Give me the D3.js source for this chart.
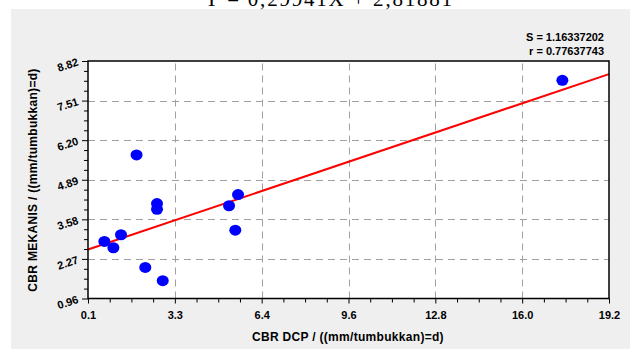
<!DOCTYPE html>
<html><head><meta charset="utf-8">
<script src="https://cdn.jsdelivr.net/npm/d3@7"></script>
<style>
html,body{margin:0;padding:0;background:#fff;}
svg{display:block;font-family:"Liberation Sans",Arial,sans-serif;}
</style></head>
<body>
<svg id="chart" width="630" height="349"></svg>
<script>
// Data
const cbrDCP     = [0.70, 1.03, 1.31, 1.88, 2.20, 2.63, 2.63, 2.84, 5.27, 5.60, 5.50, 17.49];
const cbrMekanis = [2.85, 2.64, 3.07, 5.71, 1.99, 4.10, 3.91, 1.55, 4.03, 4.40, 3.22, 8.18];
const xTickLabels = ["0.1", "3.3", "6.4", "9.6", "12.8", "16.0", "19.2"];
const yTickLabels = ["0.96", "2.27", "3.58", "4.89", "6.20", "7.51", "8.82"];
const fitIntercept = 2.55;
const fitSlope = 0.304;
const statLines = ["S = 1.16337202", "r = 0.77637743"];
const equationText = "Y = 0,29941X + 2,81881";

const svg = d3.select("#chart");
const W = 630, H = 349;
const m = {left: 88, right: 609, top: 61, bottom: 298.5};

// background panel
svg.append("rect").attr("x", 11).attr("y", 9).attr("width", W - 11).attr("height", H - 9).attr("fill", "#efefef");
// clipped equation at top
svg.append("text").attr("x", 204).attr("y", 6).attr("font-family", "'Liberation Serif','Times New Roman',serif")
  .attr("font-size", 21).attr("fill", "#000").attr("textLength", 248).text(equationText);

const xMin = +xTickLabels[0], xMax = +xTickLabels[xTickLabels.length - 1];
const yMin = +yTickLabels[0], yMax = +yTickLabels[yTickLabels.length - 1];
const x = d3.scaleLinear().domain([xMin, xMax]).range([m.left, m.right]);
const y = d3.scaleLinear().domain([yMin, yMax]).range([m.bottom, m.top]);

const nX = xTickLabels.length - 1, nY = yTickLabels.length - 1;
const xMajor = d3.range(nX + 1).map(i => xMin + i * (xMax - xMin) / nX);
const yMajor = d3.range(nY + 1).map(i => yMin + i * (yMax - yMin) / nY);
const xMinor = d3.range(nX * 4 + 1).map(i => xMin + i * (xMax - xMin) / (nX * 4)).filter((d, i) => i % 4 !== 0);
const yMinor = d3.range(nY * 4 + 1).map(i => yMin + i * (yMax - yMin) / (nY * 4)).filter((d, i) => i % 4 !== 0);

// plot area
svg.append("rect").attr("x", m.left).attr("y", m.top).attr("width", m.right - m.left).attr("height", m.bottom - m.top)
  .attr("fill", "#fff");

// grid
const grid = svg.append("g").attr("stroke", "#a0a0a0").attr("stroke-width", 1).attr("stroke-dasharray", "7,5");
grid.selectAll(".gx").data(xMajor.slice(1, -1)).join("line")
  .attr("x1", d => Math.round(x(d)) + 0.5).attr("x2", d => Math.round(x(d)) + 0.5)
  .attr("y1", m.bottom).attr("y2", m.top);
grid.selectAll(".gy").data(yMajor.slice(1, -1)).join("line")
  .attr("y1", d => Math.round(y(d)) + 0.5).attr("y2", d => Math.round(y(d)) + 0.5)
  .attr("x1", m.left).attr("x2", m.right);

// axes
const xAxis = d3.axisBottom(x).tickValues(xMajor).tickSize(5).tickFormat((d, i) => xTickLabels[i]);
const gx = svg.append("g").attr("transform", `translate(0,${m.bottom})`).call(xAxis);
gx.select(".domain").remove();
gx.selectAll("line").attr("stroke", "#000");
gx.selectAll("text").attr("font-size", 11).attr("font-weight", "bold").attr("fill", "#000")
  .attr("font-family", "'Liberation Sans',Arial,sans-serif").attr("dy", "1.15em");
const xAxisMinor = d3.axisBottom(x).tickValues(xMinor).tickSize(4).tickFormat("");
const gxm = svg.append("g").attr("transform", `translate(0,${m.bottom})`).call(xAxisMinor);
gxm.select(".domain").remove();
gxm.selectAll("line").attr("stroke", "#000");

const yAxis = d3.axisLeft(y).tickValues(yMajor).tickSize(6).tickFormat((d, i) => yTickLabels[i]);
const gy = svg.append("g").attr("transform", `translate(${m.left},0)`).call(yAxis);
gy.select(".domain").remove();
gy.selectAll("line").attr("stroke", "#000");
gy.selectAll("text").attr("font-size", 11).attr("font-weight", "bold").attr("fill", "#000")
  .attr("font-family", "'Liberation Sans',Arial,sans-serif")
  .attr("x", -10).attr("dy", "0.35em")
  .attr("transform", function() { return "rotate(-18," + (-10) + ",0)"; });
const yAxisMinor = d3.axisLeft(y).tickValues(yMinor).tickSize(4).tickFormat("");
const gym = svg.append("g").attr("transform", `translate(${m.left},0)`).call(yAxisMinor);
gym.select(".domain").remove();
gym.selectAll("line").attr("stroke", "#000");

// regression line
svg.append("line")
  .attr("x1", x(xMin)).attr("y1", y(fitIntercept + fitSlope * xMin))
  .attr("x2", x(xMax)).attr("y2", y(fitIntercept + fitSlope * xMax))
  .attr("stroke", "#ff0000").attr("stroke-width", 2);

// points
svg.append("g").selectAll("ellipse").data(cbrDCP.map((d, i) => [d, cbrMekanis[i]])).join("ellipse")
  .attr("cx", d => x(d[0])).attr("cy", d => y(d[1])).attr("rx", 6).attr("ry", 5.5)
  .attr("fill", "#0000ff");

// border
svg.append("rect").attr("x", m.left).attr("y", m.top).attr("width", m.right - m.left).attr("height", m.bottom - m.top)
  .attr("fill", "none").attr("stroke", "#000").attr("stroke-width", 1.5);

// stats
svg.append("g").selectAll("text").data(statLines).join("text")
  .attr("x", 604).attr("y", (d, i) => 41 + i * 14).attr("text-anchor", "end")
  .attr("font-size", 11).attr("font-weight", "bold").attr("fill", "#000").text(d => d);

// axis titles
svg.append("text").attr("x", 348).attr("y", 341).attr("text-anchor", "middle")
  .attr("font-size", 12).attr("font-weight", "bold").attr("letter-spacing", "0.3px").attr("fill", "#000")
  .text("CBR DCP / ((mm/tumbukkan)=d)");
svg.append("text").attr("transform", "translate(37,180) rotate(-90)").attr("text-anchor", "middle")
  .attr("font-size", 12).attr("font-weight", "bold").attr("letter-spacing", "0.3px").attr("fill", "#000")
  .text("CBR MEKANIS / ((mm/tumbukkan)=d)");
</script>
</body></html>
